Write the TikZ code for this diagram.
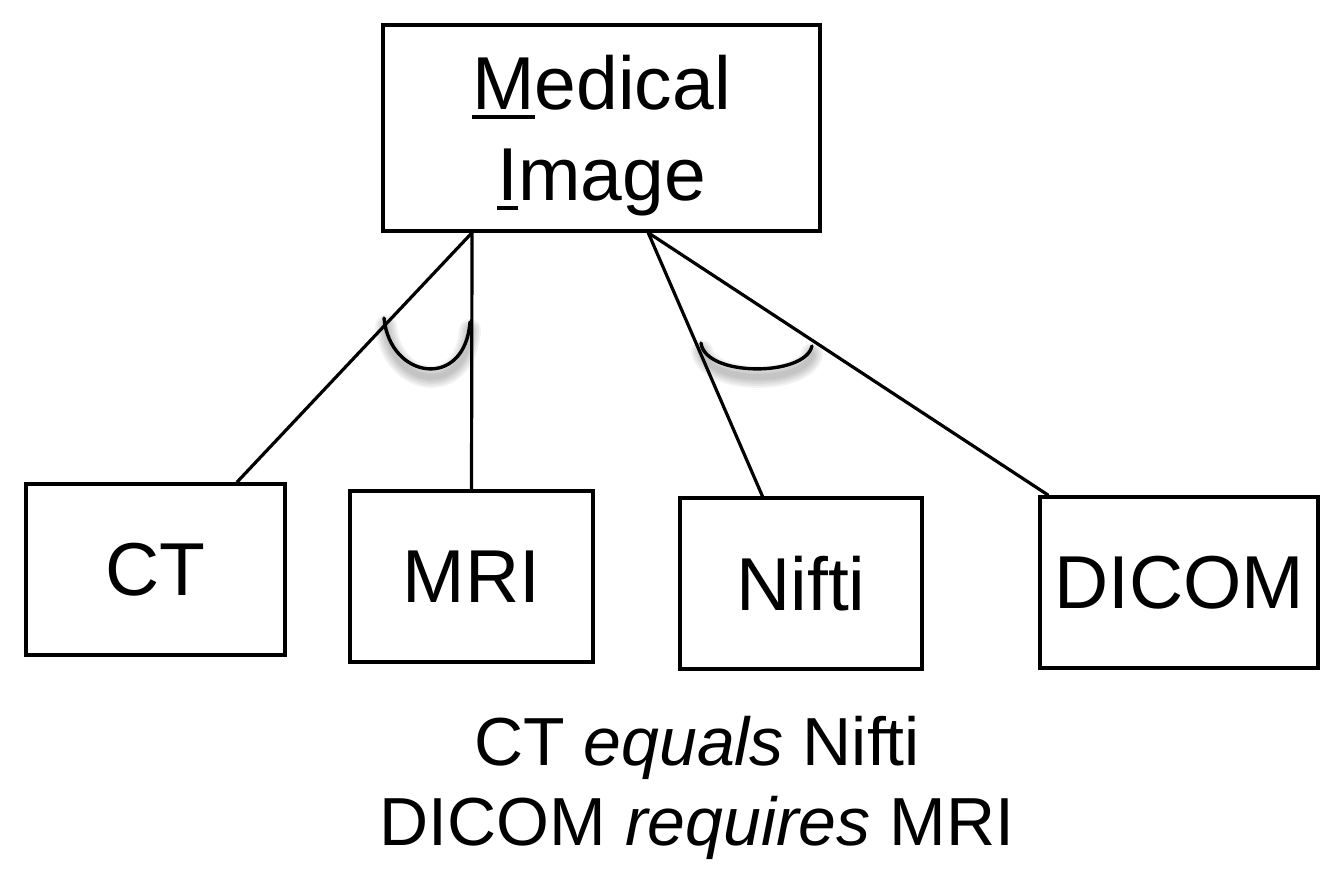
\documentclass[tikz,border=0pt]{standalone}
\usepackage{fontspec}
\setmainfont{Liberation Sans}
\usetikzlibrary{calc}
\newcommand\myul[1]{\setbox0\hbox{#1}\rlap{\rule[-9pt]{\wd0}{3.2pt}}#1}
\tikzset{
  box/.style={draw, line width=3.4pt, minimum height=171pt, inner sep=0pt,
    font=\fontsize{75}{90}\selectfont},
  conn/.style={line width=3.2pt},
  arcline/.style={line width=3.4pt, line cap=round},
  arcshadow/.style={line width=#1, black, opacity=0.05, line cap=round},
}
\begin{document}
\begin{tikzpicture}[x=1pt,y=-1pt]
\useasboundingbox (0,0) rectangle (1341,881);
% nodes
\node[box, minimum width=437pt, minimum height=206pt, align=center, text depth=0pt,
  font=\fontsize{75}{91}\selectfont] (mi) at (601.5,128) {\myul{M}edical\\\myul{I}mage};
\node[box, minimum width=259pt] (ct) at (155.5,569.5) {CT};
\node[box, minimum width=243pt] (mri) at (471.5,576.5) {MRI};
\node[box, minimum width=242pt] (nifti) at (801,583.5) {Nifti};
\node[box, minimum width=278pt] (dicom) at (1179,582.5) {DICOM};
\node[align=center, text depth=0pt, inner sep=0pt, font=\fontsize{68}{80}\selectfont] (rules) at (697,781)
  {CT \textit{equals} Nifti\\DICOM \textit{requires} MRI};
% attachment points
\coordinate (a1) at ($(mi.south west)!0.206!(mi.south east)$);
\coordinate (a2) at ($(mi.south west)!0.606!(mi.south east)$);
\coordinate (ctt) at ($(ct.north west)!0.81!(ct.north east)$);
\coordinate (nit) at ($(nifti.north west)!0.343!(nifti.north east)$);
\coordinate (dit) at ($(dicom.north west)!0.036!(dicom.north east)$);
% shadows of arcs
\foreach \w in {6,10,14,18,22}{
  \draw[arcshadow=\w pt] (386,326) .. controls (392,388) and (465,398) .. (470,330);
  \draw[arcshadow=\w pt] (702,351) .. controls (708,385) and (805,385) .. (812,354);
}
% connectors
\draw[conn] (a1) -- (ctt);
\draw[conn] (a1) -- (mri.north);
\draw[conn] (a2) -- (nit);
\draw[conn] (a2) -- (dit);
% arcs
\draw[arcline] (384,318) .. controls (390,380) and (465,390) .. (470,322);
\draw[arcline] (701,343) .. controls (705,377) and (805,377) .. (812,346);
\end{tikzpicture}
\end{document}
